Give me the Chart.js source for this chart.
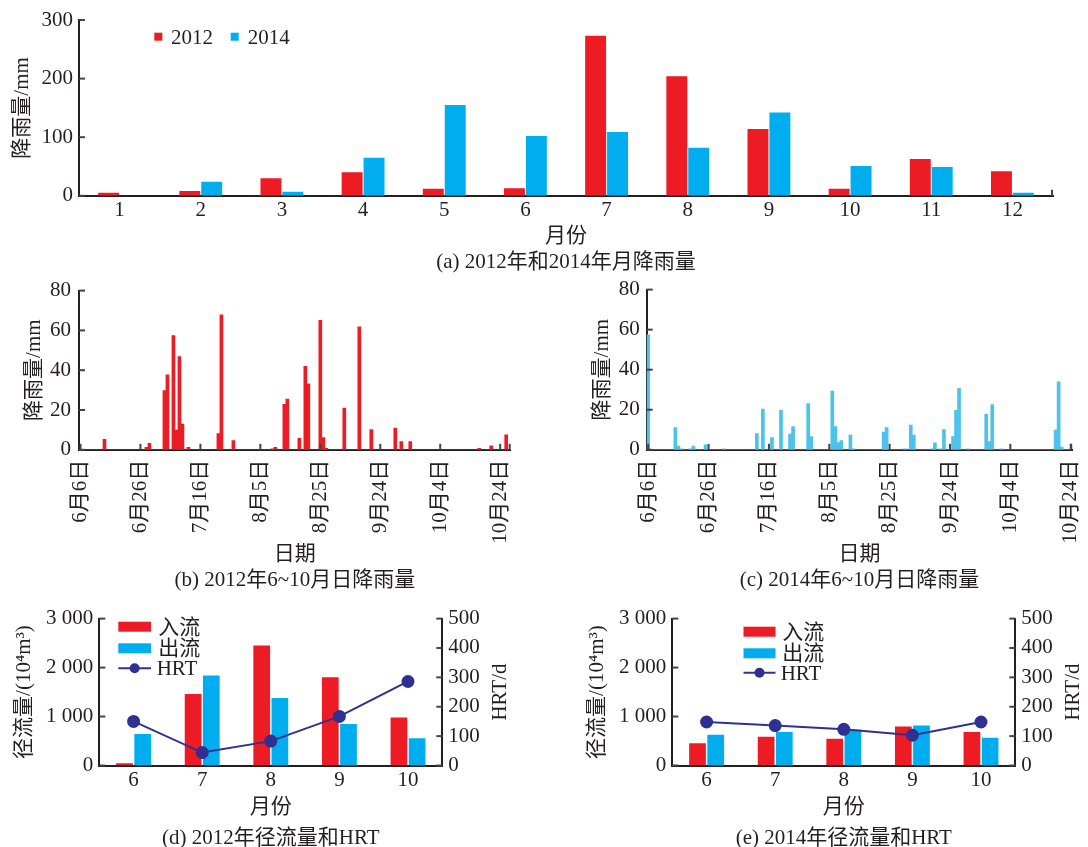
<!DOCTYPE html>
<html><head><meta charset="utf-8">
<script src="https://cdn.jsdelivr.net/npm/chart.js@4/dist/chart.umd.min.js"></script>
<style>
html,body{margin:0;padding:0;background:#fff;overflow:hidden;width:1088px;height:847px;}
canvas{position:absolute;}
</style></head><body>
<canvas id="ca" width="1088" height="278" style="left:0;top:0"></canvas>
<canvas id="cb" width="536" height="326" style="left:0;top:270px"></canvas>
<canvas id="cc" width="546" height="326" style="left:560px;top:270px"></canvas>
<canvas id="cd" width="512" height="254" style="left:0;top:600px"></canvas>
<canvas id="ce" width="512" height="254" style="left:573px;top:600px"></canvas>
<script>
// ---------- data ----------
const monthLabels = ['1','2','3','4','5','6','7','8','9','10','11','12'];
const rain2012 = [5, 8, 30, 40, 12, 13, 273, 204, 114, 12, 63, 42];
const rain2014 = [0, 24, 7, 65, 155, 102, 109, 82, 142, 51, 49, 5];

const dailyTickLabels = ['6月6日','6月26日','7月16日','8月5日','8月25日','9月24日','10月4日','10月24日'];
const dayCount2012 = 144;   // days from 6月6日
const dayCount2014 = 141;
const rainDays2012 = [8,22,23,28,29,31,32,33,34,36,46,47,51,64,65,68,69,73,75,76,80,81,82,88,93,97,105,107,110,133,137,142];
const rainMm2012   = [5.3,1.2,3.3,29.8,37.7,57.4,9.9,46.8,12.9,1.3,8.1,67.8,4.6,0.5,1.3,22.8,25.5,5.8,42.0,33.2,65.0,6.1,0.7,21.0,61.8,10.1,10.9,4.1,4.1,0.7,2.0,7.5];
const rainDays2014 = [0,9,10,11,14,15,19,25,36,38,41,44,47,48,53,54,61,62,63,64,67,68,78,79,85,87,88,94,95,97,98,101,102,103,106,112,113,114,117,135,136,137];
const rainMm2014   = [57.4,11.1,1.8,0.5,0.5,1.8,2.5,0.5,8.1,20.3,6.1,19.7,7.9,11.6,23.1,6.6,29.3,11.6,3.6,4.6,7.3,0.5,8.8,11.1,0.5,12.4,7.4,0.5,3.5,0.5,10.1,6.6,19.7,30.7,0.5,17.7,4.1,22.6,0.5,9.9,34.0,1.3];

const runoffMonths = ['6','7','8','9','10'];
const inflow2012  = [46, 1461, 2452, 1804, 978];
const outflow2012 = [641, 1837, 1381, 846, 555];
const hrt2012     = [150, 44, 83, 167, 286];
const inflow2014  = [455, 587, 547, 798, 686];
const outflow2014 = [626, 686, 732, 818, 567];
const hrt2014     = [148, 136, 123, 103, 148];

// ---------- style ----------
const FONT = "'Liberation Serif','Times New Roman','Noto Sans CJK SC',serif";
const FS = 21;
const INK = '#231F20';
const RED = '#ED1C24', CYAN = '#00AEEF', SKY = '#4DC3EB', NAVY = '#2E3192';
Chart.defaults.font.family = FONT;
Chart.defaults.font.size = FS;
Chart.defaults.color = INK;

const fixW = w => s => { s.width = w; };
const fixH = h => s => { s.height = h; };
const noGrid = {display:false, drawTicks:false};
const axisBorder = {display:true, color:INK, width:2};
const spaced = v => String(v).replace(/\B(?=(\d{3})+(?!\d))/g, ' ');

function daily(n, days, vals) {
  const a = new Array(n).fill(0);
  days.forEach((d, i) => { a[d] = vals[i]; });
  return a;
}
function idx(n) { return Array.from({length:n}, (_, i) => String(i)); }

// inward tick marks
const tickPlugin = {
  id: 'inTicks',
  afterDraw(chart, args, opts) {
    const ctx = chart.ctx, ca = chart.chartArea, len = opts.len || 6;
    ctx.save();
    ctx.strokeStyle = opts.color || '#444';
    ctx.lineWidth = 2;
    (opts.axes || []).forEach(a => {
      const s = chart.scales[a.id];
      const pix = [];
      if (a.ticks) s.ticks.forEach((t, i) => pix.push(s.getPixelForTick(i)));
      if (a.end) pix.push(s.isHorizontal() ? ca.right - 1 : ca.top);
      pix.forEach(p => {
        ctx.beginPath();
        if (s.isHorizontal()) { ctx.moveTo(p, ca.bottom); ctx.lineTo(p, ca.bottom - len); }
        else if (a.side === 'right') { ctx.moveTo(ca.right, p); ctx.lineTo(ca.right - len, p); }
        else { ctx.moveTo(ca.left, p); ctx.lineTo(ca.left + len, p); }
        ctx.stroke();
      });
    });
    ctx.restore();
  }
};

// legend drawn inside plot
const legendPlugin = {
  id: 'boxLegend',
  afterDraw(chart, args, opts) {
    if (!opts.items) return;
    const ctx = chart.ctx;
    ctx.save();
    ctx.font = FS + 'px ' + FONT;
    ctx.textBaseline = 'middle';
    ctx.textAlign = 'left';
    opts.items.forEach(it => {
      const ds = chart.data.datasets[it.ds];
      const col = ds.backgroundColor || ds.borderColor;
      if (it.type === 'line') {
        ctx.strokeStyle = ds.borderColor; ctx.lineWidth = 2;
        ctx.beginPath(); ctx.moveTo(it.x, it.y); ctx.lineTo(it.x + it.w, it.y); ctx.stroke();
        ctx.fillStyle = ds.pointBackgroundColor;
        ctx.beginPath(); ctx.arc(it.x + it.w / 2, it.y, it.r, 0, Math.PI * 2); ctx.fill();
      } else {
        ctx.fillStyle = col;
        ctx.fillRect(it.x, it.y - it.h / 2, it.w, it.h);
      }
      ctx.fillStyle = INK;
      ctx.fillText(ds.label, it.tx, it.y + (it.dy || 1.5));
    });
    ctx.restore();
  }
};

// right axis title reading bottom-to-top
const sideTitlePlugin = {
  id: 'sideTitle',
  afterDraw(chart, args, opts) {
    if (!opts.text) return;
    const ctx = chart.ctx, ca = chart.chartArea;
    ctx.save();
    ctx.font = FS + 'px ' + FONT;
    ctx.fillStyle = INK;
    ctx.textAlign = 'center';
    ctx.textBaseline = 'middle';
    ctx.translate(opts.x, (ca.top + ca.bottom) / 2);
    ctx.rotate(-Math.PI / 2);
    ctx.fillText(opts.text, 0, 0);
    ctx.restore();
  }
};

const base = {responsive:false, animation:false, devicePixelRatio:1};
function caption(text, padTop) {
  return {display:true, position:'bottom', fullSize:false, text, color:INK,
          font:{size:FS, weight:'normal'}, padding:{top:padTop, bottom:3}};
}

// ---------- (a) ----------
new Chart(document.getElementById('ca'), {
  type: 'bar',
  data: { labels: monthLabels, datasets: [
    {label:'2012', data:rain2012, backgroundColor:RED},
    {label:'2014', data:rain2014, backgroundColor:CYAN}]},
  options: Object.assign({}, base, {
    layout: {padding:{top:20, right:35, left:0, bottom:0}},
    datasets: {bar:{categoryPercentage:0.54, barPercentage:0.955, borderWidth:0}},
    plugins: {
      legend:{display:false}, tooltip:{enabled:false},
      title: caption('(a) 2012年和2014年月降雨量', 0.4),
      boxLegend: {items:[
        {ds:0, x:154.3, y:36.7, w:8, h:8, tx:171},
        {ds:1, x:230.7, y:36.7, w:8, h:8, tx:247.7}]},
      inTicks: {axes:[{id:'y', ticks:true, side:'left'}, {id:'x', end:true}]}
    },
    scales: {
      x: {grid:noGrid, border:axisBorder, ticks:{padding:2.4, maxRotation:0, autoSkip:false},
          title:{display:true, text:'月份', padding:0}, afterFit:fixH(53.6)},
      y: {min:0, max:300, grid:noGrid, border:axisBorder, ticks:{stepSize:100, padding:6},
          title:{display:true, text:'降雨量/mm', padding:{top:9.4, bottom:0}}, afterFit:fixW(79)}
    }
  }),
  plugins: [tickPlugin, legendPlugin]
});

// ---------- daily charts ----------
function dailyChart(id, n, days, vals, color, cap, yW, yTitlePad, yTickPad) {
  new Chart(document.getElementById(id), {
    type: 'bar',
    data: { labels: idx(n), datasets: [{label:'降雨量', data:daily(n, days, vals), backgroundColor:color}]},
    options: Object.assign({}, base, {
      layout: {padding:{top:19, right:25, left:0, bottom:0}},
      datasets: {bar:{categoryPercentage:1, barPercentage:1, borderWidth:0}},
      plugins: {
        legend:{display:false}, tooltip:{enabled:false},
        title: caption(cap, 0.4),
        inTicks: {axes:[{id:'y', ticks:true, side:'left'}, {id:'x', ticks:true, end:true}]}
      },
      scales: {
        x: {offset:true, grid:noGrid, border:axisBorder,
            ticks:{padding:10, minRotation:90, maxRotation:90, autoSkip:false,
                   callback:(v) => dailyTickLabels[v / 20]},
            afterBuildTicks: s => { s.ticks = s.ticks.filter(t => t.value % 20 === 0); },
            title:{display:true, text:'日期', padding:0}, afterFit:fixH(117.6)},
        y: {min:0, max:80, grid:noGrid, border:axisBorder, ticks:{stepSize:20, padding:yTickPad},
            title:{display:true, text:'降雨量/mm', padding:{top:yTitlePad, bottom:0}}, afterFit:fixW(yW)}
      }
    }),
    plugins: [tickPlugin]
  });
}
dailyChart('cb', dayCount2012, rainDays2012, rainMm2012, RED, '(b) 2012年6~10月日降雨量', 79, 21.8, 8);
dailyChart('cc', dayCount2014, rainDays2014, rainMm2014, SKY, '(c) 2014年6~10月日降雨量', 86.7, 29.4, 7);

// ---------- runoff + HRT ----------
function runoffChart(id, inflow, outflow, hrt, cap, legendItems) {
  new Chart(document.getElementById(id), {
    type: 'bar',
    data: { labels: runoffMonths, datasets: [
      {label:'入流', data:inflow, backgroundColor:RED, order:2, yAxisID:'y'},
      {label:'出流', data:outflow, backgroundColor:CYAN, order:2, yAxisID:'y'},
      {label:'HRT', type:'line', data:hrt, borderColor:NAVY, backgroundColor:NAVY, pointBackgroundColor:NAVY,
       pointBorderColor:NAVY, pointRadius:5.5, borderWidth:2, order:0, yAxisID:'y1'}]},
    options: Object.assign({}, base, {
      layout: {padding:{top:14.3, right:0, left:0, bottom:0}},
      datasets: {bar:{categoryPercentage:0.53, barPercentage:0.92, borderWidth:0}},
      plugins: {
        legend:{display:false}, tooltip:{enabled:false},
        title: caption(cap, 5.4),
        boxLegend: {items:legendItems},
        sideTitle: {text:'HRT/d', x:500},
        inTicks: {axes:[{id:'y', ticks:true, side:'left'}, {id:'y1', ticks:true, side:'right'}]}
      },
      scales: {
        x: {grid:noGrid, border:axisBorder, ticks:{padding:2.7, maxRotation:0, autoSkip:false},
            title:{display:true, text:'月份', padding:0}, afterFit:fixH(54.9)},
        y: {position:'left', min:0, max:3000, grid:noGrid, border:axisBorder,
            ticks:{stepSize:1000, padding:6, callback:spaced},
            title:{display:true, text:'径流量/(10⁴m³)', padding:{top:11.4, bottom:0}}, afterFit:fixW(99.3)},
        y1: {position:'right', min:0, max:500, grid:noGrid, border:axisBorder,
             ticks:{stepSize:100, padding:6}, afterFit:fixW(69.7)}
      }
    }),
    plugins: [tickPlugin, legendPlugin, sideTitlePlugin]
  });
}
runoffChart('cd', inflow2012, outflow2012, hrt2012, '(d) 2012年径流量和HRT', [
  {ds:0, x:118.3, y:26.7, w:32.7, h:10, tx:158.3},
  {ds:1, x:118.3, y:48.3, w:32.7, h:10, tx:158.3},
  {ds:2, type:'line', x:118.3, y:68.3, w:32.7, r:5, tx:156.7}]);
runoffChart('ce', inflow2014, outflow2014, hrt2014, '(e) 2014年径流量和HRT', [
  {ds:0, x:170.5, y:31.7, w:32, h:10, tx:209.3},
  {ds:1, x:170.5, y:53.3, w:32, h:10, tx:209.3},
  {ds:2, type:'line', x:170.5, y:72.7, w:32, r:5, tx:207.7}]);
</script>
</body></html>
